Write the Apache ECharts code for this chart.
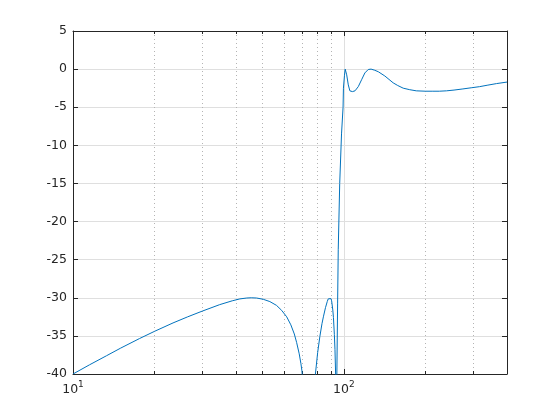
<!DOCTYPE html>
<html>
<head>
<meta charset="utf-8">
<script src="https://cdn.jsdelivr.net/npm/echarts@6/dist/echarts.min.js"></script>
<style>
html,body{margin:0;padding:0;background:#fff;}
#c{width:560px;height:420px;}
</style>
</head>
<body>
<div id="c"></div>
<script>
// Frequency points (x, log axis) and magnitude in dB (y)
const freq = [10, 11.5, 13.3, 15, 17.6, 20, 23.4, 26.5, 30, 34.8, 38.7, 41.3, 43.8, 45.5, 47.6, 50.4, 53.3, 56.4, 58.9, 61.5, 63.7, 65.6, 66.9, 68.4, 69.4, 70.0, 70.5,
  71.5, 72.5, 76, 78.5,
  80, 81.5, 83, 84, 85.5, 86.8, 87.5, 88.2, 88.9, 89.5, 90.1, 91, 91.5, 92.2, 92.7, 93.2, 93.7, 94.2, 94.8, 95.3, 96.5, 98, 99.3, 99.6,
  100.5, 101.1, 102.4, 103.8, 105.2, 107.5, 109.9, 113, 116.2, 119.5, 123, 126, 130, 134, 141.6, 152,
  158, 165.5, 175, 185, 200, 213, 225, 239, 255, 275, 295, 317, 340, 366, 400];
const magDb = [-40, -38.8, -37.6, -36.6, -35.35, -34.4, -33.3, -32.5, -31.75, -30.9, -30.4, -30.15, -30.03, -30.0, -30.03, -30.2, -30.5, -31.0, -31.65, -32.5, -33.55, -34.75, -35.85, -37.35, -38.65, -39.6, -41,
  -48, -70, -46, -40,
  -37.2, -35.1, -33.4, -32.5, -31.3, -30.5, -30.15, -29.98, -29.98, -30.1, -30.4, -31.6, -32.6, -34.8, -36.8, -40, -60, -40, -30.7, -23.7, -15, -8.5, -5, -2.5,
  -0.8, 0, -0.75, -2.07, -2.85, -2.95, -2.85, -2.3, -1.4, -0.5, -0.05, 0, -0.15, -0.35, -0.9, -1.8,
  -2.15, -2.5, -2.7, -2.85, -2.9, -2.9, -2.9, -2.85, -2.75, -2.6, -2.45, -2.3, -2.1, -1.9, -1.7];

const xMajorTicks = [10, 100];
const xMinorTicks = [20, 30, 40, 50, 60, 70, 80, 90, 200, 300];
const yMin = -40, yMax = 5, yStep = 5;
const xMin = 10, xMax = 400;

const axisColor = '#262626';
const fontFam = '"DejaVu Sans", sans-serif';

function supLabel(v) {
  const e = Math.round(Math.log10(v));
  return '{b|10}{s|' + e + '}';
}

const chart = echarts.init(document.getElementById('c'), null, {renderer: 'canvas', width: 560, height: 420});
const baseX = {
  type: 'log', logBase: 10, min: xMin, max: xMax,
  axisLine: {show: false, onZero: false},
  axisLabel: {show: false},
  axisTick: {show: false},
  splitLine: {show: false},
  minorTick: {show: false},
  minorSplitLine: {show: false}
};
chart.setOption({
  backgroundColor: '#ffffff',
  animation: false,
  grid: {left: 73, top: 31, width: 434, height: 343, containLabel: false},
  xAxis: [
    Object.assign({}, baseX, {
      position: 'bottom',
      axisLine: {show: true, onZero: false, lineStyle: {color: axisColor, width: 1}},
      axisTick: {show: true, inside: true, length: 5, customValues: xMajorTicks, lineStyle: {color: axisColor}},
      axisLabel: {
        show: true, customValues: xMajorTicks, margin: 6, color: axisColor,
        formatter: supLabel,
        rich: {
          b: {fontSize: 12.5, fontFamily: fontFam, color: axisColor, lineHeight: 20},
          s: {fontSize: 9, fontFamily: fontFam, color: axisColor, lineHeight: 9, verticalAlign: 'top'}
        }
      },
      splitLine: {show: true, lineStyle: {color: '#dfdfdf', width: 1, type: 'solid'}}
    }),
    Object.assign({}, baseX, {
      position: 'bottom',
      axisLine: {show: false, onZero: false},
      axisTick: {show: true, inside: true, length: 3, customValues: xMinorTicks, lineStyle: {color: axisColor}},
      splitLine: {show: true, lineStyle: {color: '#b4b4b4', width: 1, type: [1, 3]}}
    }),
    Object.assign({}, baseX, {
      position: 'top',
      axisLine: {show: true, onZero: false, lineStyle: {color: axisColor, width: 1}},
      axisTick: {show: true, inside: true, length: 5, customValues: xMajorTicks, lineStyle: {color: axisColor}}
    }),
    Object.assign({}, baseX, {
      position: 'top',
      axisLine: {show: false, onZero: false},
      axisTick: {show: true, inside: true, length: 3, customValues: xMinorTicks, lineStyle: {color: axisColor}}
    })
  ],
  yAxis: [
    {
      type: 'value', min: yMin, max: yMax, interval: yStep, position: 'left',
      axisLine: {show: true, onZero: false, lineStyle: {color: axisColor, width: 1}},
      axisTick: {show: true, inside: true, length: 5, lineStyle: {color: axisColor}},
      axisLabel: {show: true, margin: 6, color: axisColor, fontSize: 12.5, fontFamily: fontFam},
      splitLine: {show: true, lineStyle: {color: '#dfdfdf', width: 1}}
    },
    {
      type: 'value', min: yMin, max: yMax, interval: yStep, position: 'right',
      axisLine: {show: true, onZero: false, lineStyle: {color: axisColor, width: 1}},
      axisTick: {show: true, inside: true, length: 5, lineStyle: {color: axisColor}},
      axisLabel: {show: false},
      splitLine: {show: false}
    }
  ],
  series: [{
    type: 'line',
    xAxisIndex: 0, yAxisIndex: 0,
    data: freq.map((f, i) => [f, magDb[i]]),
    showSymbol: false,
    symbol: 'none',
    clip: true,
    lineStyle: {color: '#0072BD', width: 1},
    z: 5
  }]
});
</script>
</body>
</html>
